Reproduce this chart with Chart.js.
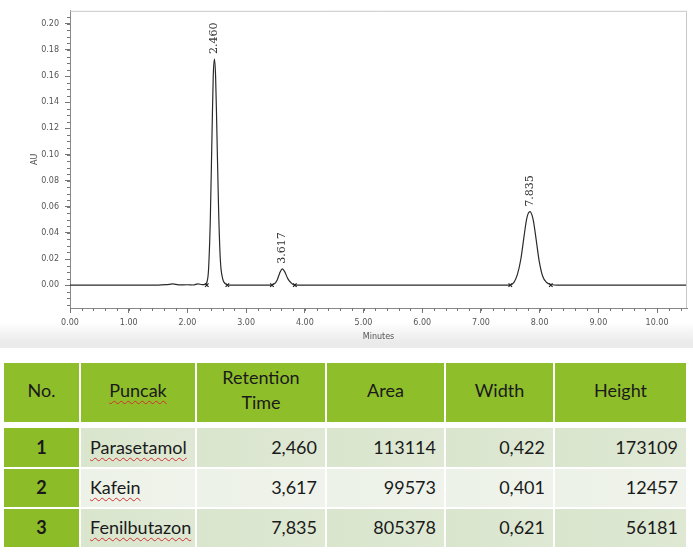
<!DOCTYPE html>
<html>
<head>
<meta charset="utf-8">
<script src="https://cdn.jsdelivr.net/npm/chart.js@4.4.1/dist/chart.umd.min.js"></script>
<style>
body { margin: 0; width: 693px; height: 554px; overflow: hidden; position: relative; background: #fff; }
#chartBox { position: absolute; left: 0; top: 0; width: 693px; height: 348px;
  background: linear-gradient(to bottom, #fff 0px, #fff 322px, #ebebeb 342px, #ebebeb 348px); }
#peakTable { position: absolute; left: 4px; top: 363px; display: grid;
  grid-template-columns: 75px 114px 128px 117px 107px 131px;
  grid-template-rows: 59px 2px 39px 38px 38px; gap: 2px;
  font-family: Lato, "Open Sans", sans-serif; font-size: 18px; color: #1a1a1a; }
#peakTable div { display: flex; align-items: center; box-sizing: border-box; }
#peakTable .head { background: #8fbe2b; justify-content: center; text-align: center; line-height: 25px; padding-bottom: 5px; }
#peakTable .no { background: #8cbc27; justify-content: center; font-weight: bold; padding-bottom: 2px; }
#peakTable .name { padding-left: 9px; padding-bottom: 2px; }
#peakTable .num { justify-content: flex-end; padding-right: 8px; padding-bottom: 2px; }
#peakTable .r0 { background: linear-gradient(to right, #d9e5cd, #dfe8d4); }
#peakTable .r1 { background: linear-gradient(to right, #edf2e8, #eff3eb); }
#peakTable .r2 { background: linear-gradient(to right, #d9e5cd, #dee8d3); }
.spell { text-decoration: underline wavy #d03030; text-decoration-thickness: 1px; text-underline-offset: 3px; }
</style>
</head>
<body>
<div id="chartBox"><canvas id="chromChart"></canvas></div>
<div id="peakTable"></div>
<script>
// chromatogram trace (minutes, AU)
var traceTime = [0, 0.5, 1.0, 1.5, 1.65, 1.75, 1.85, 2.0, 2.1, 2.18, 2.25, 2.30, 2.33, 2.36, 2.39, 2.42, 2.44, 2.46,
  2.48, 2.50, 2.53, 2.56, 2.60, 2.65, 2.72, 3.0, 3.3, 3.42, 3.48, 3.53, 3.57, 3.617, 3.66, 3.71, 3.76, 3.82,
  4.5, 5.5, 6.5, 7.2, 7.48, 7.56, 7.62, 7.68, 7.73, 7.78, 7.835, 7.89, 7.94, 7.99, 8.05, 8.12, 8.20, 8.3, 9.0, 10.0, 10.5];
var traceAU = [0, 0, 0, 0, 0.0004, 0.0009, 0.0002, 0.0003, 0.0001, 0.001, 0.0004, 0.0006, 0.002, 0.012, 0.050, 0.118, 0.160, 0.173,
  0.160, 0.122, 0.060, 0.020, 0.005, 0.001, 0, 0, 0, 0, 0.001, 0.004, 0.009, 0.0125, 0.010, 0.005, 0.002, 0,
  0, 0, 0, 0, 0, 0.002, 0.008, 0.020, 0.036, 0.051, 0.0562, 0.050, 0.035, 0.019, 0.007, 0.002, 0.0005, 0, 0, 0, 0];

// integration start / end marks
var peakStarts = [2.33, 3.44, 7.50];
var peakEnds = [2.68, 3.83, 8.19];

// peak table
var peakNames = ["Parasetamol", "Kafein", "Fenilbutazon"];
var retentionTimes = [2.460, 3.617, 7.835];
var peakAreas = [113114, 99573, 805378];
var peakWidths = [0.422, 0.401, 0.621];
var peakHeights = [173109, 12457, 56181];
var tableHeaders = ["No.", "Puncak", "Retention<br>Time", "Area", "Width", "Height"];

var xTicks = [0, 1, 2, 3, 4, 5, 6, 7, 8, 9, 10];
var yTicks = [0, 0.02, 0.04, 0.06, 0.08, 0.10, 0.12, 0.14, 0.16, 0.18, 0.20];

var tracePoints = traceTime.map(function (t, i) { return { x: t, y: traceAU[i] }; });
var markPoints = peakStarts.concat(peakEnds).map(function (t) { return { x: t, y: 0 }; });

//Frame, minor ticks and rotated retention labels
var chromDecor = {
  id: 'chromDecor',
  afterDraw: function (chart) {
    var ctx = chart.ctx, a = chart.chartArea, x = chart.scales.x, y = chart.scales.y;
    ctx.save();
    ctx.strokeStyle = '#c8c8c8';
    ctx.lineWidth = 1;
    ctx.beginPath();
    ctx.moveTo(a.left, a.top + 0.5); ctx.lineTo(a.right - 0.5, a.top + 0.5); ctx.lineTo(a.right - 0.5, a.bottom);
    ctx.stroke();

    ctx.strokeStyle = '#777';
    ctx.beginPath();
    for (var v = 0; v <= 10.5; v += 0.2) {
      var px = Math.round(x.getPixelForValue(v)) + 0.5;
      ctx.moveTo(px, a.bottom); ctx.lineTo(px, a.bottom + 3);
    }
    for (var w = -0.015; w <= 0.21; w += 0.005) {
      var py = Math.round(y.getPixelForValue(w)) + 0.5;
      ctx.moveTo(a.left, py); ctx.lineTo(a.left - 3, py);
    }
    ctx.stroke();

    ctx.fillStyle = '#333';
    ctx.font = '11px "DejaVu Serif", serif';
    ctx.textAlign = 'left';
    ctx.textBaseline = 'middle';
    retentionTimes.forEach(function (rt, i) {
      ctx.save();
      ctx.translate(x.getPixelForValue(rt), y.getPixelForValue(peakHeights[i] / 1e6) - 5);
      ctx.rotate(-Math.PI / 2);
      ctx.fillText(rt.toFixed(3), 0, 0);
      ctx.restore();
    });
    ctx.restore();
  }
};

new Chart(document.getElementById('chromChart'), {
  type: 'scatter',
  data: {
    datasets: [{
      data: tracePoints,
      showLine: true,
      borderColor: '#2a2a2a',
      borderWidth: 1.2,
      pointRadius: 0,
      cubicInterpolationMode: 'monotone'
    }, {
      data: markPoints,
      pointStyle: 'crossRot',
      pointRadius: 2.5,
      borderColor: '#222',
      borderWidth: 1.2
    }]
  },
  options: {
    responsive: true,
    maintainAspectRatio: false,
    animation: false,
    layout: { padding: { top: 8, right: 6, left: 30, bottom: 6 } },
    plugins: { legend: { display: false }, tooltip: { enabled: false } },
    scales: {
      x: {
        type: 'linear', min: 0, max: 10.51,
        afterBuildTicks: function (s) { s.ticks = xTicks.map(function (v) { return { value: v }; }); },
        afterFit: function (s) { s.height = 34; },
        border: { color: '#888', width: 1 },
        grid: { drawOnChartArea: false, color: '#777', tickLength: 5 },
        ticks: { color: '#555', font: { size: 8, family: 'DejaVu Sans' }, padding: 5,
          maxRotation: 0, callback: function (v) { return v.toFixed(2); } },
        title: { display: true, text: 'Minutes', color: '#555', font: { size: 8, family: 'DejaVu Sans' }, padding: 0 }
      },
      y: {
        type: 'linear', min: -0.0175, max: 0.21,
        afterBuildTicks: function (s) { s.ticks = yTicks.map(function (v) { return { value: v }; }); },
        afterFit: function (s) { s.width = 40; },
        border: { color: '#888', width: 1 },
        grid: { drawOnChartArea: false, color: '#777', tickLength: 5 },
        ticks: { color: '#555', font: { size: 8, family: 'DejaVu Sans' }, padding: 6,
          callback: function (v) { return v.toFixed(2); } },
        title: { display: true, text: 'AU', color: '#555', font: { size: 8, family: 'DejaVu Sans' }, padding: 0 }
      }
    }
  },
  plugins: [chromDecor]
});

// build the table from the arrays
var tbl = document.getElementById('peakTable');
var html = '';
tableHeaders.forEach(function (h, i) {
  html += '<div class="head">' + (i === 1 ? '<span class="spell">' + h + '</span>' : h) + '</div>';
});
html += '<div style="grid-column: 1 / 7"></div>';
peakNames.forEach(function (name, i) {
  var r = 'r' + i;
  html += '<div class="no">' + (i + 1) + '</div>';
  html += '<div class="name ' + r + '"><span class="spell">' + name + '</span></div>';
  html += '<div class="num ' + r + '">' + retentionTimes[i].toFixed(3).replace('.', ',') + '</div>';
  html += '<div class="num ' + r + '">' + peakAreas[i] + '</div>';
  html += '<div class="num ' + r + '">' + peakWidths[i].toFixed(3).replace('.', ',') + '</div>';
  html += '<div class="num ' + r + '">' + peakHeights[i] + '</div>';
});
tbl.innerHTML = html;
</script>
</body>
</html>
